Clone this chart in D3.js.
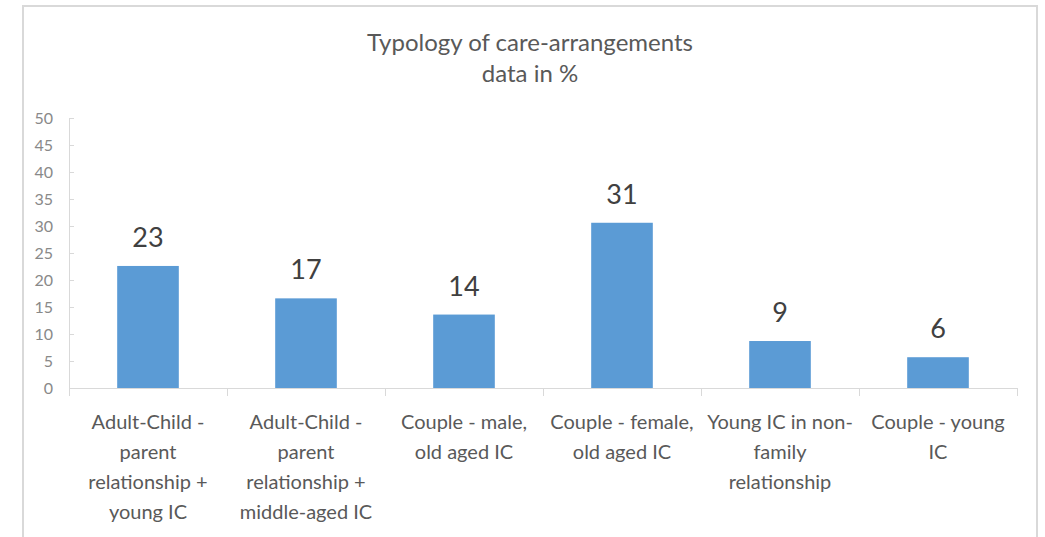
<!DOCTYPE html>
<html>
<head>
<meta charset="utf-8">
<script src="https://cdn.jsdelivr.net/npm/d3@7"></script>
<style>
  body { margin: 0; background: #fff; }
  svg text { font-family: Lato, "Open Sans", sans-serif; }
</style>
</head>
<body>
<div id="chart"></div>
<script>
// chart data
const categories = [
    ["Adult-Child -", "parent", "relationship +", "young IC"],
    ["Adult-Child -", "parent", "relationship +", "middle-aged IC"],
    ["Couple - male,", "old aged IC"],
    ["Couple - female,", "old aged IC"],
    ["Young IC in non-", "family", "relationship"],
    ["Couple - young", "IC"]
];
const values = [22.6, 16.6, 13.6, 30.6, 8.7, 5.7];
const yTicks = [0, 5, 10, 15, 20, 25, 30, 35, 40, 45, 50];
const titleLines = ["Typology of care-arrangements", "data in %"];

const W = 1045, H = 537;
const margin = { top: 118, right: 28, bottom: 149, left: 69 },
    width = W - margin.left - margin.right,
    height = H - margin.top - margin.bottom;

const svg = d3.select("#chart")
    .append("svg")
    .attr("width", W)
    .attr("height", H);

// chart area border
svg.append("rect")
    .attr("x", 23).attr("y", 6)
    .attr("width", 1014).attr("height", 560)
    .attr("fill", "none")
    .attr("stroke", "#d9d9d9")
    .attr("stroke-width", 2);

// title
svg.append("text")
    .attr("x", 530).attr("y", 51)
    .attr("text-anchor", "middle")
    .style("font-size", "24px")
    .style("fill", "#595959")
    .selectAll("tspan")
    .data(titleLines)
    .join("tspan")
    .attr("x", 530)
    .attr("dy", (d, i) => i === 0 ? 0 : 31)
    .text(d => d);

const g = svg.append("g")
    .attr("transform", `translate(${margin.left},${margin.top})`);

const keys = categories.map((c, i) => i);
const x = d3.scaleBand()
    .domain(keys)
    .range([0, width])
    .paddingInner(0.61)
    .paddingOuter(0.305);

const y = d3.scaleLinear()
    .domain([0, 50])
    .range([height, 0]);

// y axis
const yAxis = g.append("g")
    .call(d3.axisLeft(y).tickValues(yTicks).tickSizeInner(-5).tickSizeOuter(0).tickPadding(16));
yAxis.select(".domain").attr("stroke", "#d9d9d9");
yAxis.selectAll(".tick line").attr("stroke", "#d9d9d9");
yAxis.selectAll(".tick text")
    .style("font-size", "16px")
    .style("font-family", "Lato, sans-serif")
    .attr("fill", "#898989");

// bars
g.selectAll(".bar")
    .data(values)
    .join("rect")
    .attr("class", "bar")
    .attr("x", (d, i) => x(i))
    .attr("y", d => y(d))
    .attr("width", x.bandwidth())
    .attr("height", d => height - y(d))
    .attr("fill", "#5b9bd5");

// x axis line and category boundary ticks
g.append("line")
    .attr("x1", 0).attr("x2", width)
    .attr("y1", height + 0.5).attr("y2", height + 0.5)
    .attr("stroke", "#d9d9d9");
const bounds = d3.range(categories.length + 1).map(i => i * x.step());
g.selectAll(".bound")
    .data(bounds)
    .join("line")
    .attr("class", "bound")
    .attr("x1", d => d + 0.5).attr("x2", d => d + 0.5)
    .attr("y1", height).attr("y2", height + 8)
    .attr("stroke", "#d9d9d9");

// data labels
g.selectAll(".lbl")
    .data(values)
    .join("text")
    .attr("class", "lbl")
    .attr("x", (d, i) => x(i) + x.bandwidth() / 2)
    .attr("y", d => y(d) - 19)
    .attr("text-anchor", "middle")
    .style("font-size", "27px")
    .style("fill", "#404040")
    .text(d => d3.format(".0f")(d));

// category labels
const cat = g.selectAll(".cat")
    .data(categories)
    .join("text")
    .attr("class", "cat")
    .attr("text-anchor", "middle")
    .style("font-size", "20px")
    .style("fill", "#595959");
cat.selectAll("tspan")
    .data((d, i) => d.map(t => ({ t, i })))
    .join("tspan")
    .attr("x", d => x(d.i) + x.bandwidth() / 2)
    .attr("y", (d, j) => height + 41 + j * 30)
    .text(d => d.t);
</script>
</body>
</html>
